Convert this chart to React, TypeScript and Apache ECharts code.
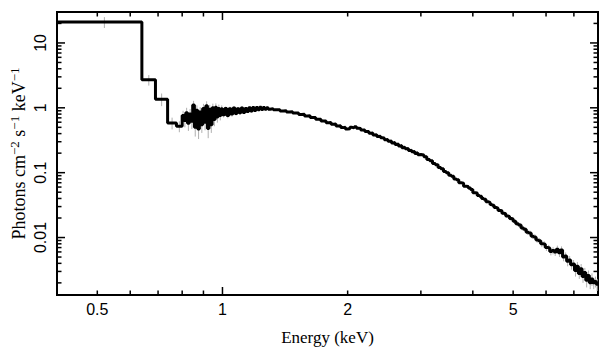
import React, { useEffect, useRef } from 'react';
import * as echarts from 'echarts';

// Axis extents
const X_MIN = 0.4;
const X_MAX = 8;
const Y_MIN = 0.0013;
const Y_MAX = 30;

// Spectrum bin edges (keV)
const binEdges = [
  0.4, 0.64, 0.69, 0.738, 0.775,
  0.800, 0.808, 0.816, 0.824, 0.832, 0.840, 0.848, 0.856, 0.864, 0.872, 0.880, 0.888, 0.896,
  0.904, 0.912, 0.920, 0.928, 0.936, 0.944, 0.952, 0.960, 0.968, 0.976, 0.984, 0.992,
  1.000, 1.012, 1.024, 1.036, 1.048, 1.060, 1.072, 1.084, 1.096, 1.108, 1.120, 1.132, 1.144,
  1.156, 1.168, 1.180, 1.192, 1.204, 1.216, 1.228, 1.240, 1.252, 1.264, 1.276, 1.288,
  1.300, 1.325, 1.350, 1.375, 1.400, 1.425, 1.450, 1.475, 1.500, 1.525, 1.550, 1.575, 1.600,
  1.625, 1.650, 1.675, 1.700, 1.725, 1.750, 1.775, 1.800, 1.825, 1.850, 1.875, 1.900, 1.925,
  1.950, 1.975,
  2.000, 2.025, 2.050, 2.075, 2.100, 2.125, 2.150, 2.175, 2.200, 2.225, 2.250, 2.275, 2.300,
  2.325, 2.350, 2.375, 2.400, 2.425, 2.450, 2.475, 2.500, 2.525, 2.550, 2.575, 2.600, 2.625,
  2.650, 2.675, 2.700, 2.725, 2.750, 2.775, 2.800, 2.825, 2.850, 2.875, 2.900, 2.925, 2.950,
  2.975,
  3.00, 3.05, 3.10, 3.15, 3.20, 3.25, 3.30, 3.35, 3.40, 3.45, 3.50, 3.55, 3.60, 3.65, 3.70,
  3.75, 3.80, 3.85, 3.90, 3.95, 4.00, 4.05, 4.10, 4.15, 4.20, 4.25, 4.30, 4.35, 4.40, 4.45,
  4.50, 4.55, 4.60, 4.65, 4.70, 4.75, 4.80, 4.85, 4.90, 4.95,
  5.000, 5.075, 5.150, 5.225, 5.300, 5.375, 5.450, 5.525, 5.600, 5.675, 5.750, 5.825, 5.900,
  5.975, 6.050, 6.125, 6.200, 6.275, 6.350, 6.425, 6.500, 6.575, 6.650, 6.725, 6.800, 6.875,
  6.950, 7.025, 7.100, 7.175, 7.250, 7.325, 7.400, 7.475, 7.550, 7.625, 7.700, 7.775, 7.850,
  7.925, 8.000,
];

// Flux per bin (Photons cm^-2 s^-1 keV^-1)
const flux = [
  21, 2.7, 1.36, 0.585, 0.52,
  0.76, 0.64, 0.84, 0.58, 0.80, 0.62, 1.10, 0.50, 0.92, 0.47, 0.86, 0.55, 0.98, 0.60, 1.08,
  0.48, 0.95, 0.55, 1.00, 0.66, 1.02, 0.72, 0.98, 0.76, 0.97,
  0.78, 0.98, 0.76, 0.97, 0.80, 0.99, 0.82, 0.97, 0.84, 0.99, 0.85, 0.98, 0.88, 1.00, 0.89,
  1.01, 0.91, 1.01, 0.93, 1.02, 0.94, 1.01, 0.95, 1.00, 0.95,
  0.97, 0.93, 0.93, 0.89, 0.90, 0.86, 0.87, 0.83, 0.835, 0.79, 0.795, 0.75, 0.755, 0.71,
  0.71, 0.665, 0.665, 0.625, 0.625, 0.59, 0.595, 0.56, 0.565, 0.525, 0.53, 0.495, 0.50, 0.47,
  0.475, 0.50, 0.49, 0.51, 0.485, 0.48, 0.455, 0.455, 0.43, 0.432, 0.405, 0.408, 0.38, 0.386,
  0.362, 0.365, 0.345, 0.343, 0.322, 0.326, 0.306, 0.308, 0.287, 0.291, 0.273, 0.276, 0.257,
  0.262, 0.243, 0.247, 0.233, 0.235, 0.219, 0.223, 0.21, 0.212, 0.198, 0.203, 0.189, 0.19,
  0.187, 0.176, 0.160, 0.152, 0.138, 0.132, 0.120, 0.115, 0.104, 0.100, 0.091, 0.088, 0.080,
  0.078, 0.070, 0.069, 0.062, 0.061, 0.058, 0.055, 0.049, 0.0485, 0.0445, 0.0432, 0.0398,
  0.0388, 0.0357, 0.0349, 0.0322, 0.0314, 0.0290, 0.0284, 0.0262, 0.0258, 0.0237, 0.0233,
  0.0215, 0.0212, 0.0196, 0.0193,
  0.0178, 0.0163, 0.0156, 0.0140, 0.0134, 0.0121, 0.0117, 0.0105, 0.0102, 0.0092, 0.0089,
  0.0080, 0.0079, 0.0070, 0.0069, 0.0061, 0.0063, 0.0060, 0.0066, 0.0058, 0.0064, 0.0050,
  0.0052, 0.0043, 0.0045, 0.0038, 0.0039, 0.0031, 0.0036, 0.0028, 0.0033, 0.0025, 0.0029,
  0.0022, 0.0026, 0.0020, 0.0023, 0.0020, 0.0021, 0.0019,
];

// 1-sigma errors per bin
const fluxErr = [
  4, 0.5, 0.3, 0.12, 0.1,
  0.14, 0.14, 0.16, 0.14, 0.16, 0.15, 0.18, 0.14, 0.17, 0.14, 0.16, 0.14, 0.17, 0.15, 0.18,
  0.14, 0.16, 0.14, 0.16, 0.14, 0.15, 0.13, 0.14, 0.12, 0.12,
  0.07, 0.07, 0.07, 0.07, 0.07, 0.06, 0.06, 0.06, 0.06, 0.06, 0.05, 0.05, 0.05, 0.05, 0.05,
  0.05, 0.05, 0.04, 0.04, 0.04, 0.04, 0.04, 0.04, 0.04, 0.04,
  0.03, 0.03, 0.03, 0.03, 0.03, 0.03, 0.03, 0.025, 0.025, 0.025, 0.025, 0.022, 0.022, 0.02,
  0.02, 0.02, 0.02, 0.018, 0.018, 0.017, 0.017, 0.016, 0.016, 0.015, 0.015, 0.014, 0.014, 0.013,
  0.014, 0.014, 0.014, 0.014, 0.013, 0.013, 0.013, 0.013, 0.012, 0.012, 0.011, 0.011, 0.011,
  0.011, 0.01, 0.01, 0.01, 0.01, 0.009, 0.009, 0.009, 0.009, 0.008, 0.008, 0.008, 0.008, 0.007,
  0.007, 0.007, 0.007, 0.007, 0.007, 0.006, 0.006, 0.006, 0.006, 0.006, 0.006, 0.006, 0.006,
  0.006, 0.0055, 0.005, 0.005, 0.0045, 0.0045, 0.004, 0.004, 0.0036, 0.0036, 0.0033, 0.0033,
  0.003, 0.003, 0.0027, 0.0027, 0.0025, 0.0025, 0.0024, 0.0023, 0.0021, 0.0021, 0.002, 0.002,
  0.0019, 0.0019, 0.0018, 0.0018, 0.0017, 0.0017, 0.0016, 0.0016, 0.0015, 0.0015, 0.0014,
  0.0014, 0.0013, 0.0013, 0.0013, 0.0013,
  0.0014, 0.0013, 0.0013, 0.0012, 0.0012, 0.0011, 0.0011, 0.001, 0.001, 0.0009, 0.0009,
  0.0009, 0.0009, 0.0008, 0.0008, 0.0008, 0.0008, 0.0008, 0.0009, 0.0008, 0.0009, 0.0007,
  0.0007, 0.0007, 0.0007, 0.0006, 0.0006, 0.0006, 0.0006, 0.0005, 0.0006, 0.0005, 0.0005,
  0.0005, 0.0005, 0.0004, 0.0005, 0.0004, 0.0004, 0.0004,
];

// Axis ticks and labels
const xMajorTicks = [1];
const xMinorTicks = [0.5, 0.6, 0.7, 0.8, 0.9, 2, 3, 4, 5, 6, 7];
const xTickLabels = ['0.5', '1', '2', '5'];
const yMajorTicks = [0.01, 0.1, 1, 10];
const yMinorTicks = [
  0.002, 0.003, 0.004, 0.005, 0.006, 0.007, 0.008, 0.009,
  0.02, 0.03, 0.04, 0.05, 0.06, 0.07, 0.08, 0.09,
  0.2, 0.3, 0.4, 0.5, 0.6, 0.7, 0.8, 0.9,
  2, 3, 4, 5, 6, 7, 8, 9, 20,
];
const yTickLabels = ['0.01', '0.1', '1', '10'];

const X_TITLE = 'Energy (keV)';
const Y_TITLE = 'Photons cm{sup|\u22122} s{sup|\u22121} keV{sup|\u22121}';

const TICK_FONT = 'Liberation Sans';
const TITLE_FONT = 'Liberation Serif';

export default function App() {
  const ref = useRef<HTMLDivElement>(null);

  useEffect(() => {
    document.body.style.margin = '0';
    const chart = echarts.init(ref.current as HTMLDivElement, null, { renderer: 'svg' });

    const nBins = flux.length;
    const lineData = binEdges.map((e, i) => [e, flux[Math.min(i, nBins - 1)]]);
    const errData = flux.map((f, i) => [(binEdges[i] + binEdges[i + 1]) / 2, f, fluxErr[i]]);

    const xTickData = [
      ...xMinorTicks.map((v) => [v, Y_MIN, 0]),
      ...xMajorTicks.map((v) => [v, Y_MIN, 1]),
    ];
    const yTickData = [
      ...yMinorTicks.map((v) => [X_MIN, v, 0]),
      ...yMajorTicks.map((v) => [X_MIN, v, 1]),
    ];

    const tickStyle = { stroke: '#000', lineWidth: 1.5 };

    const option: any = {
      animation: false,
      grid: {
        left: 55,
        right: 11,
        top: 12,
        bottom: 62,
        show: true,
        borderColor: '#000',
        borderWidth: 2,
        backgroundColor: 'transparent',
      },
      xAxis: {
        type: 'log',
        logBase: 10,
        min: X_MIN,
        max: X_MAX,
        name: X_TITLE,
        nameLocation: 'middle',
        nameGap: 34,
        nameTextStyle: { fontFamily: TITLE_FONT, fontSize: 17, color: '#000' },
        axisLine: { show: false },
        axisTick: { show: false },
        axisLabel: { show: false },
        splitLine: { show: false },
        minorTick: { show: false },
      },
      yAxis: {
        type: 'log',
        logBase: 10,
        min: Y_MIN,
        max: Y_MAX,
        name: Y_TITLE,
        nameLocation: 'middle',
        nameGap: 28,
        nameTextStyle: {
          fontFamily: TITLE_FONT,
          fontSize: 18,
          color: '#000',
          lineHeight: 21,
          rich: {
            sup: { fontFamily: TITLE_FONT, fontSize: 13, lineHeight: 13, verticalAlign: 'top', color: '#000' },
          },
        },
        axisLine: { show: false },
        axisTick: { show: false },
        axisLabel: { show: false },
        splitLine: { show: false },
        minorTick: { show: false },
      },
      series: [
        {
          type: 'custom',
          name: 'errors',
          z: 1,
          clip: true,
          silent: true,
          data: errData,
          renderItem: (params: any, api: any) => {
            const x = api.value(0);
            const y = api.value(1);
            const e = api.value(2);
            const lo = api.coord([x, y - e]);
            const hi = api.coord([x, y + e]);
            return {
              type: 'line',
              shape: { x1: lo[0], y1: lo[1], x2: hi[0], y2: hi[1] },
              style: { stroke: '#b0b0b0', lineWidth: 1 },
            };
          },
        },
        {
          type: 'line',
          name: 'spectrum',
          z: 2,
          step: 'end',
          showSymbol: false,
          symbol: 'none',
          data: lineData,
          lineStyle: { color: '#000', width: 3 },
          silent: true,
        },
        {
          type: 'custom',
          name: 'xticks',
          z: 3,
          clip: false,
          silent: true,
          data: xTickData,
          renderItem: (params: any, api: any) => {
            const v = api.value(0);
            const len = api.value(2) ? 8 : 4.5;
            const b = api.coord([v, Y_MIN]);
            const t = api.coord([v, Y_MAX]);
            return {
              type: 'group',
              children: [
                { type: 'line', shape: { x1: b[0], y1: b[1], x2: b[0], y2: b[1] - len }, style: tickStyle },
                { type: 'line', shape: { x1: t[0], y1: t[1], x2: t[0], y2: t[1] + len }, style: tickStyle },
              ],
            };
          },
        },
        {
          type: 'custom',
          name: 'yticks',
          z: 3,
          clip: false,
          silent: true,
          data: yTickData,
          renderItem: (params: any, api: any) => {
            const v = api.value(1);
            const len = api.value(2) ? 8 : 4.5;
            const l = api.coord([X_MIN, v]);
            const r = api.coord([X_MAX, v]);
            return {
              type: 'group',
              children: [
                { type: 'line', shape: { x1: l[0], y1: l[1], x2: l[0] + len, y2: l[1] }, style: tickStyle },
                { type: 'line', shape: { x1: r[0], y1: r[1], x2: r[0] - len, y2: r[1] }, style: tickStyle },
              ],
            };
          },
        },
        {
          type: 'custom',
          name: 'xlabels',
          z: 3,
          clip: false,
          silent: true,
          data: xTickLabels.map((s) => [parseFloat(s), Y_MIN]),
          renderItem: (params: any, api: any) => {
            const p = api.coord([api.value(0), Y_MIN]);
            return {
              type: 'text',
              x: p[0],
              y: p[1] + 14,
              style: {
                text: xTickLabels[params.dataIndex],
                fontFamily: TICK_FONT,
                fontSize: 16,
                fill: '#000',
                align: 'center',
                verticalAlign: 'middle',
              },
            };
          },
        },
        {
          type: 'custom',
          name: 'ylabels',
          z: 3,
          clip: false,
          silent: true,
          data: yTickLabels.map((s) => [X_MIN, parseFloat(s)]),
          renderItem: (params: any, api: any) => {
            const p = api.coord([X_MIN, api.value(1)]);
            return {
              type: 'text',
              x: p[0] - 16.5,
              y: p[1],
              rotation: Math.PI / 2,
              style: {
                text: yTickLabels[params.dataIndex],
                fontFamily: TICK_FONT,
                fontSize: 16,
                fill: '#000',
                align: 'center',
                verticalAlign: 'middle',
              },
            };
          },
        },
      ],
    };

    chart.setOption(option);
    return () => chart.dispose();
  }, []);

  return <div ref={ref} style={{ width: 609, height: 357 }} />;
}
